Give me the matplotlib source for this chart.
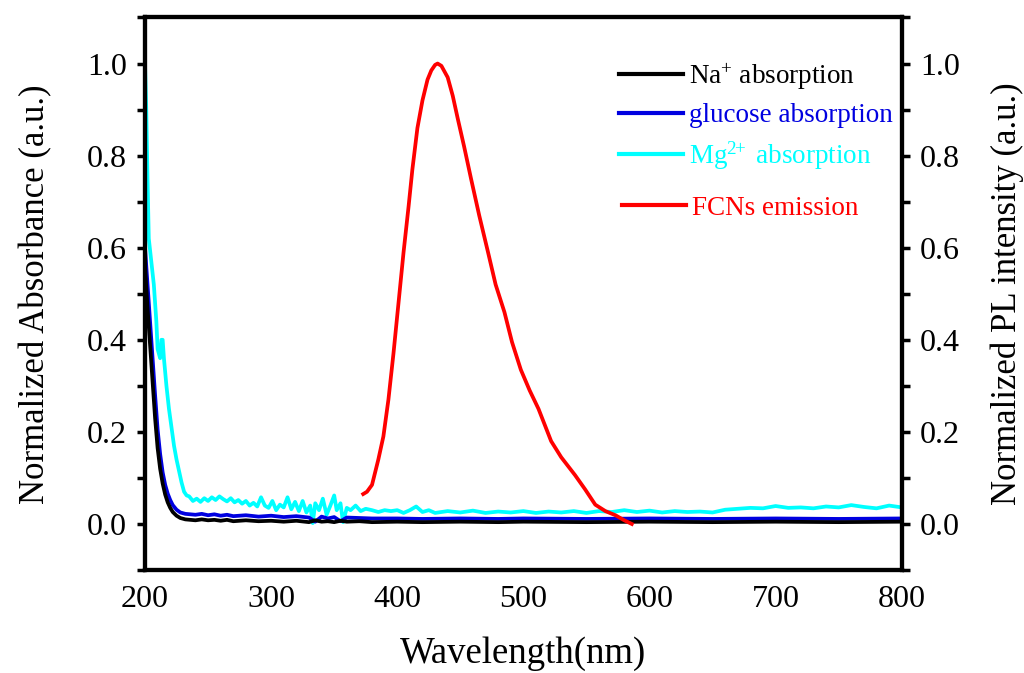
import matplotlib
matplotlib.use("Agg")
import matplotlib.pyplot as plt
from matplotlib.ticker import MultipleLocator

plt.rcParams['font.family'] = ['Liberation Serif', 'DejaVu Serif']
plt.rcParams['mathtext.fontset'] = 'stix'

# ---- data ----
wl_na = [200, 202, 204, 206, 208, 210, 212, 214, 216, 218, 220, 222, 225, 228, 232, 236,
         240, 245, 250, 255, 260, 265, 270, 280, 290, 300, 310, 320, 330, 335, 340, 345,
         350, 355, 360, 370, 380, 400, 420, 450, 480, 500, 550, 600, 650, 700, 750, 800]
na_abs = [0.56, 0.47, 0.39, 0.31, 0.23, 0.165, 0.12, 0.088, 0.064, 0.047, 0.035, 0.026, 0.018, 0.013, 0.010, 0.009,
          0.008, 0.010, 0.008, 0.009, 0.007, 0.009, 0.006, 0.008, 0.006, 0.007, 0.005, 0.007, 0.004, 0.008, 0.005, 0.006,
          0.004, 0.007, 0.005, 0.006, 0.004, 0.005, 0.004, 0.005, 0.004, 0.005, 0.004, 0.005, 0.004, 0.005, 0.004, 0.005]

wl_glu = [200, 202, 204, 206, 208, 210, 212, 214, 216, 218, 220, 222, 225, 228, 232, 236,
          240, 245, 250, 255, 260, 265, 270, 280, 290, 300, 310, 320, 330, 335, 340, 345,
          350, 355, 360, 370, 380, 400, 420, 450, 480, 500, 550, 600, 650, 700, 750, 800]
glu_abs = [0.60, 0.52, 0.44, 0.36, 0.28, 0.205, 0.152, 0.112, 0.085, 0.066, 0.052, 0.041, 0.031, 0.025, 0.022, 0.021,
           0.020, 0.022, 0.019, 0.021, 0.018, 0.020, 0.017, 0.019, 0.016, 0.018, 0.015, 0.017, 0.014, 0.005, 0.016, 0.012,
           0.015, 0.006, 0.014, 0.013, 0.012, 0.012, 0.011, 0.012, 0.011, 0.012, 0.011, 0.012, 0.011, 0.012, 0.011, 0.012]

wl_mg = [200, 201, 202, 203, 205, 207, 209, 210, 212, 213, 214, 215, 217, 219, 221, 223, 225, 227, 229, 231,
         233, 235, 238, 241, 244, 247, 250, 253, 256, 259, 262, 265, 268, 271, 274, 277, 280, 283, 286, 289,
         292, 295, 298, 301, 304, 307, 310, 313, 316, 319, 322, 325, 328, 331, 333, 335, 338, 341, 344, 347,
         350, 352, 355, 357, 360, 363, 367, 371, 375, 380, 385, 390, 395, 400, 405, 410, 415, 420, 425, 430,
         440, 450, 460, 470, 480, 490, 500, 510, 520, 530, 540, 550, 560, 570, 580, 590, 600, 610, 620, 630,
         640, 650, 660, 670, 680, 690, 700, 710, 720, 730, 740, 750, 760, 770, 780, 790, 800]
mg_abs = [1.00, 0.90, 0.75, 0.62, 0.57, 0.52, 0.44, 0.38, 0.36, 0.40, 0.40, 0.36, 0.30, 0.25, 0.21, 0.17, 0.14, 0.115, 0.09, 0.07,
          0.062, 0.060, 0.050, 0.055, 0.048, 0.056, 0.050, 0.058, 0.052, 0.060, 0.054, 0.049, 0.056, 0.047, 0.052, 0.044, 0.050, 0.040, 0.046, 0.038,
          0.058, 0.040, 0.035, 0.050, 0.030, 0.042, 0.036, 0.058, 0.032, 0.048, 0.028, 0.050, 0.025, 0.040, 0.002, 0.045, 0.030, 0.055, 0.020, 0.040,
          0.062, 0.030, 0.045, 0.004, 0.035, 0.030, 0.040, 0.028, 0.033, 0.030, 0.026, 0.030, 0.028, 0.030, 0.024, 0.030, 0.038, 0.026, 0.030, 0.024,
          0.028, 0.025, 0.029, 0.024, 0.027, 0.025, 0.028, 0.024, 0.027, 0.025, 0.028, 0.024, 0.028, 0.026, 0.030, 0.026, 0.029, 0.025, 0.028, 0.026,
          0.027, 0.025, 0.031, 0.033, 0.035, 0.034, 0.039, 0.035, 0.036, 0.034, 0.038, 0.036, 0.041, 0.037, 0.034, 0.040, 0.036]

wl_em = [373, 376, 380, 385, 389, 393, 397, 401, 405, 409, 412, 416, 420, 424, 427, 430, 432, 435, 440, 444,
         448, 453, 458.5, 465, 472, 478, 485, 491, 498, 505, 512, 517, 522, 530, 541, 549, 557, 565, 573, 580, 586]
em_int = [0.065, 0.070, 0.085, 0.14, 0.19, 0.27, 0.37, 0.48, 0.59, 0.69, 0.77, 0.86, 0.92, 0.965, 0.985, 0.997, 1.0, 0.995, 0.97, 0.93,
          0.88, 0.82, 0.75, 0.67, 0.59, 0.52, 0.46, 0.395, 0.335, 0.29, 0.25, 0.215, 0.18, 0.145, 0.106, 0.075, 0.042, 0.028, 0.019, 0.008, 0.0]

x_ticks = [200, 300, 400, 500, 600, 700, 800]
y_ticks = [0.0, 0.2, 0.4, 0.6, 0.8, 1.0]

# ---- figure ----
fig = plt.figure(figsize=(10.24, 6.73), dpi=100)
ax = fig.add_axes([0.1416, 0.153, 0.7390, 0.821])
ax2 = ax.twinx()

l1, = ax.plot(wl_mg, mg_abs, color='#00FFFF', lw=2.7, label='Mg$\\mathregular{^{2\\!\\!+}}$ absorption')
l2, = ax.plot(wl_glu, glu_abs, color='#0000E0', lw=2.7, label='glucose absorption')
l3, = ax.plot(wl_na, na_abs, color='black', lw=2.7, label='Na$\\mathregular{^{+}}$ absorption')
l4, = ax2.plot(wl_em, em_int, color='#FF0000', lw=2.7, label='FCNs emission')

for a in (ax, ax2):
    a.set_xlim(200, 800)
    a.set_ylim(-0.1, 1.1)
    a.set_yticks(y_ticks)
    a.yaxis.set_minor_locator(MultipleLocator(0.1))
    for s in a.spines.values():
        s.set_linewidth(3.0)
    a.tick_params(axis='y', which='both', direction='out', length=6, width=2.5,
                  labelsize=23, pad=7)

ax.set_xticks(x_ticks)
ax.tick_params(axis='x', length=0, labelsize=23, pad=11)
ax.tick_params(axis='y', which='both', right=False)
ax2.tick_params(axis='y', which='both', left=False)

ax.set_xlabel('Wavelength(nm)', fontsize=26.5, labelpad=16)
ax.set_ylabel('Normalized Absorbance (a.u.)', fontsize=25, labelpad=25)
ax2.set_ylabel('Normalized PL intensity (a.u.)', fontsize=25, labelpad=22)

leg1 = ax.legend(handles=[l3, l2, l1], loc='upper left', bbox_to_anchor=(0.612, 0.94),
                 frameon=False, fontsize=19.5, handlelength=2.35, handletextpad=0.25,
                 labelspacing=0.42, borderaxespad=0)
for t, c in zip(leg1.get_texts(), ['black', '#0000E0', '#00FFFF']):
    t.set_color(c)
for h in leg1.get_lines():
    h.set_linewidth(3)

leg2 = ax2.legend(handles=[l4], loc='upper left', bbox_to_anchor=(0.616, 0.697),
                  frameon=False, fontsize=19.5, handlelength=2.35, handletextpad=0.25,
                  borderaxespad=0)
leg2.get_texts()[0].set_color('#FF0000')
for h in leg2.get_lines():
    h.set_linewidth(3)

fig.savefig('out.png', dpi=100)
